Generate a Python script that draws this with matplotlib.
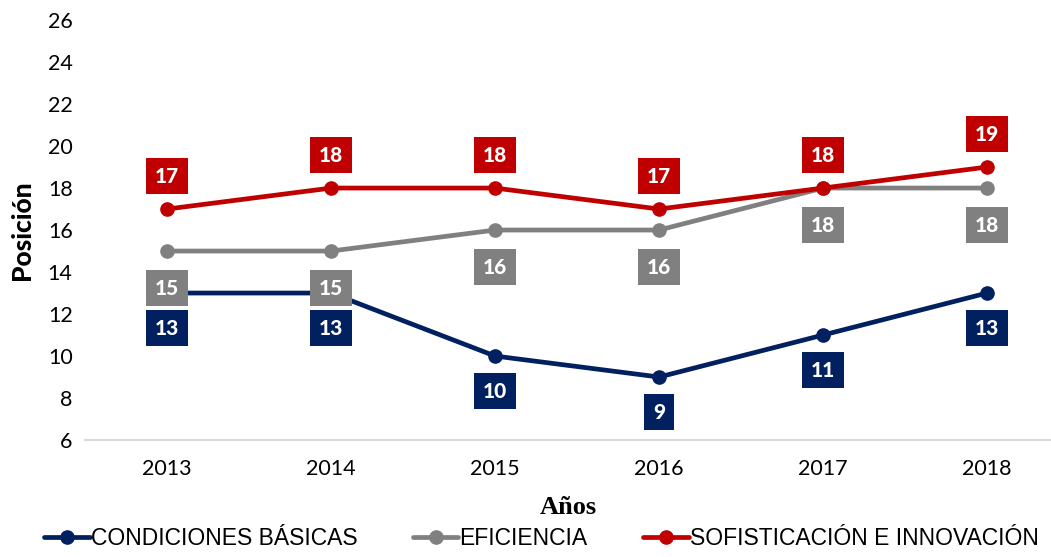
import matplotlib
matplotlib.use('Agg')
import matplotlib.pyplot as plt
import numpy as np

years = ['2013', '2014', '2015', '2016', '2017', '2018']
basicas = [13, 13, 10, 9, 11, 13]
eficiencia = [15, 15, 16, 16, 18, 18]
sofisticacion = [17, 18, 18, 17, 18, 19]

plt.rcParams['font.family'] = ['Lato', 'DejaVu Sans']

fig = plt.figure(figsize=(10.51, 5.57), dpi=100)
ax = fig.add_axes([0.081, 0.21, 0.919, 0.754])

x = np.arange(len(years))
series = [
    (basicas, '#002060', 'CONDICIONES BÁSICAS', -35),
    (eficiencia, '#808080', 'EFICIENCIA', -37),
    (sofisticacion, '#C00000', 'SOFISTICACIÓN E INNOVACIÓN', 33),
]
for vals, col, name, off in series:
    ax.plot(x, vals, color=col, lw=3.4, marker='o', ms=9.5, label=name,
            solid_capstyle='round')

for vals, col, name, off in series:
    for xi, v in zip(x, vals):
        ax.annotate(str(v), (xi, v), xytext=(0, off), textcoords='offset pixels',
                    ha='center', va='center', color='white', fontsize=15,
                    fontweight='black', zorder=5,
                    bbox=dict(boxstyle='square,pad=0.42', fc=col, ec='none'))

ax.set_xlim(-0.5, 5.39)
ax.set_ylim(6, 26)
ax.set_yticks(np.arange(6, 27, 2))
ax.set_xticks(x)
ax.set_xticklabels(years)
ax.tick_params(length=0, labelsize=15.5, pad=9)
ax.tick_params(axis='x', pad=14)
for s in ['top', 'right', 'left']:
    ax.spines[s].set_visible(False)
ax.spines['bottom'].set_color('#D9D9D9')
ax.spines['bottom'].set_linewidth(1.5)

ax.set_ylabel('Posición', fontsize=19, fontweight='black', labelpad=10)
ax.set_xlabel('Años', fontsize=19, fontweight='bold', family='Liberation Serif', labelpad=12)

fig.legend(loc='lower center', bbox_to_anchor=(0.515, -0.025), ncol=3, frameon=False,
           handlelength=2.0, columnspacing=2.4, handletextpad=0.05,
           prop={'family': ['Liberation Sans Narrow', 'Liberation Sans'], 'size': 16.5})

fig.savefig('out.png', dpi=100)
